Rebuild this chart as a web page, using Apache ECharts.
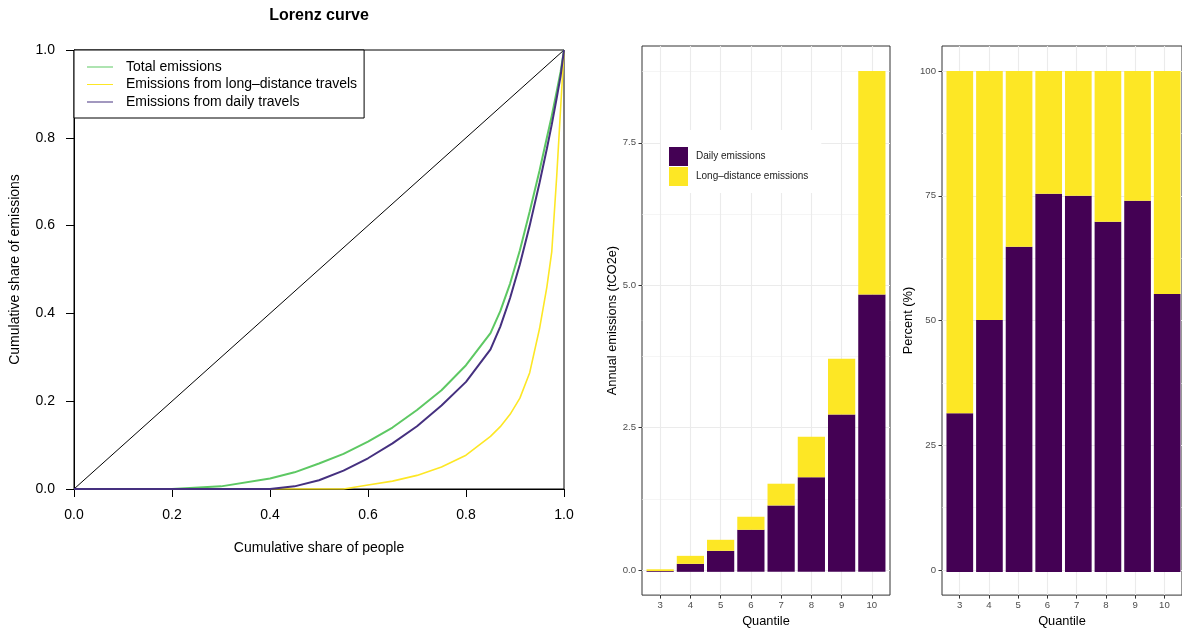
<!DOCTYPE html>
<html>
<head>
<meta charset="utf-8">
<title>Lorenz curve and emissions by quantile</title>
<script src="https://cdn.jsdelivr.net/npm/echarts@6/dist/echarts.min.js"></script>
<style>
  html, body { margin: 0; padding: 0; background: #fff; }
  #chart { width: 1182px; height: 633px; }
</style>
</head>
<body>
<div id="chart"></div>
<script>
// Lorenz curves (cumulative share of people -> cumulative share of emissions)
const shareX = [0, 0.1, 0.2, 0.3, 0.4, 0.45, 0.5, 0.55, 0.6, 0.65, 0.7, 0.75, 0.8, 0.85, 0.87, 0.89, 0.91, 0.93, 0.95, 0.965, 0.975, 0.985, 0.993, 1]
const totalShare = [0, 0, 0, 0.006, 0.024, 0.038, 0.058, 0.08, 0.108, 0.14, 0.18, 0.225, 0.282, 0.355, 0.405, 0.468, 0.544, 0.632, 0.725, 0.8, 0.85, 0.905, 0.95, 1]
const longShare = [0, 0, 0, 0, 0, 0, 0, 0, 0.009, 0.018, 0.031, 0.05, 0.077, 0.12, 0.142, 0.17, 0.207, 0.265, 0.365, 0.46, 0.54, 0.71, 0.865, 1]
const dailyShare = [0, 0, 0, 0, 0, 0.006, 0.02, 0.042, 0.07, 0.104, 0.143, 0.19, 0.244, 0.318, 0.37, 0.435, 0.512, 0.6, 0.697, 0.775, 0.83, 0.89, 0.94, 1]
const equalityX = [0, 1]
const equalityY = [0, 1]
const lorenzTicks = [0, 0.2, 0.4, 0.6, 0.8, 1]

// emissions by quantile
const quantiles = [3, 4, 5, 6, 7, 8, 9, 10]
const dailyEm = [0.014, 0.14, 0.368, 0.736, 1.162, 1.653, 2.751, 4.854]
const longEm = [0.031, 0.14, 0.193, 0.228, 0.38, 0.712, 0.976, 3.907]
const dailyPct = [31.7, 50.3, 64.9, 75.5, 75.1, 69.9, 74.1, 55.5]
const longPct = [68.3, 49.7, 35.1, 24.5, 24.9, 30.1, 25.9, 44.5]
const emTicks = [0, 2.5, 5, 7.5]
const emMinor = [1.25, 3.75, 6.25, 8.75]
const pctTicks = [0, 25, 50, 75, 100]
const pctMinor = [12.5, 37.5, 62.5, 87.5]

const FONT = 'Liberation Sans, Arial, Helvetica, sans-serif'
const DAILY = '#440154'
const LONG = '#FDE725'

const pairs = (xs, ys) => xs.map((x, i) => [x, ys[i]])

const chart = echarts.init(document.getElementById('chart'))

// panel frame: ggplot pads a discrete axis by 0.6 of a step, echarts by 0.5,
// so the frame/ticks live on a value axis and the bars on a slightly narrower grid
const EM_RANGE = [-0.44, 9.2]
const PCT_RANGE = [-5, 105]
const panels = [
  { left: 642, width: 248 },
  { left: 942, width: 246 },
]
const inner = p => ({ left: p.left + p.width * 0.1 / 8.2, width: p.width * 8 / 8.2, top: 46, bottom: 36 })

function qAxisX(grid) {
  return {
    type: 'value', gridIndex: grid, min: 2.4, max: 10.6,
    name: 'Quantile', nameLocation: 'middle', nameGap: 17,
    nameTextStyle: { color: '#000', fontSize: 12.8, fontFamily: FONT },
    axisLine: { show: false, onZero: false },
    axisTick: { show: true, length: 3.5, customValues: quantiles, lineStyle: { color: '#333' } },
    axisLabel: { customValues: quantiles, margin: 5, color: '#4D4D4D', fontSize: 9.6, fontFamily: FONT },
    splitLine: { show: true, lineStyle: { color: '#EBEBEB', width: 1.1 } },
  }
}
function qAxisY(grid, range, ticks, name, gap, fmt) {
  return {
    type: 'value', gridIndex: grid, min: range[0], max: range[1], position: 'left',
    name, nameLocation: 'middle', nameGap: gap,
    nameTextStyle: { color: '#000', fontSize: 12.8, fontFamily: FONT },
    axisLine: { show: false, onZero: false },
    axisTick: { show: true, length: 3.5, customValues: ticks, lineStyle: { color: '#333' } },
    axisLabel: { customValues: ticks, margin: 6, color: '#4D4D4D', fontSize: 9.6, fontFamily: FONT, formatter: fmt },
    splitLine: { show: true, lineStyle: { color: '#EBEBEB', width: 1.1 } },
  }
}
function minorAxisY(grid, range, ticks) {
  return {
    type: 'value', gridIndex: grid, min: range[0], max: range[1], position: 'left',
    axisLine: { show: false, onZero: false },
    axisTick: { show: false, customValues: ticks },
    axisLabel: { show: false, customValues: ticks },
    splitLine: { show: true, lineStyle: { color: '#EEEEEE', width: 0.6 } },
  }
}

const lineBase = { type: 'line', xAxisIndex: 0, yAxisIndex: 0, symbol: 'none', smooth: false }
const barBase = { type: 'bar', barCategoryGap: '10%' }

const option = {
  animation: false,
  backgroundColor: '#fff',
  title: {
    text: 'Lorenz curve', left: 319, top: 8, textAlign: 'center', padding: 0,
    textStyle: { fontSize: 16, fontWeight: 'bold', color: '#000', fontFamily: FONT },
  },
  legend: [
    {
      data: ['Total emissions', 'Emissions from long–distance travels', 'Emissions from daily travels'],
      orient: 'vertical', left: 74, top: 50, icon: 'rect',
      padding: [10, 7, 9, 13], itemWidth: 26, itemHeight: 1, itemGap: 3.5,
      backgroundColor: '#fff', borderColor: '#000', borderWidth: 1, borderRadius: 0,
      textStyle: { fontSize: 14, lineHeight: 14, color: '#000', fontFamily: FONT, padding: [0, 0, 0, 8] },
    },
    {
      data: ['Daily emissions', 'Long–distance emissions'],
      orient: 'vertical', left: 661, top: 130,
      padding: [17, 13, 7, 8], itemWidth: 19, itemHeight: 19, itemGap: 1, icon: 'rect',
      backgroundColor: '#fff',
      textStyle: { fontSize: 10, color: '#1A1A1A', fontFamily: FONT, padding: [0, 0, 0, 3] },
    },
  ],
  grid: [
    { left: 74, top: 50, width: 490, height: 439, show: true, borderColor: '#000', borderWidth: 1, backgroundColor: 'transparent' },
    { left: panels[0].left, width: panels[0].width, top: 46, bottom: 36, show: true, borderColor: '#333', borderWidth: 1, backgroundColor: 'transparent' },
    { left: panels[1].left, width: panels[1].width, top: 46, bottom: 36, show: true, borderColor: '#333', borderWidth: 1, backgroundColor: 'transparent' },
    inner(panels[0]),
    inner(panels[1]),
  ],
  xAxis: [
    {
      type: 'value', gridIndex: 0, min: 0, max: 1, interval: 0.2,
      name: 'Cumulative share of people', nameLocation: 'middle', nameGap: 52,
      nameTextStyle: { color: '#000', fontSize: 14, fontFamily: FONT },
      axisLine: { show: true, onZero: false, lineStyle: { color: '#000', width: 1 } },
      axisTick: { show: true, length: 8, lineStyle: { color: '#000' } },
      axisLabel: { margin: 19, color: '#000', fontSize: 14, fontFamily: FONT, formatter: v => v.toFixed(1), customValues: lorenzTicks },
      splitLine: { show: false },
    },
    qAxisX(1),
    qAxisX(2),
    { type: 'category', gridIndex: 3, data: quantiles, show: false },
    { type: 'category', gridIndex: 4, data: quantiles, show: false },
  ],
  yAxis: [
    {
      type: 'value', gridIndex: 0, min: 0, max: 1, interval: 0.2,
      name: 'Cumulative share of emissions', nameLocation: 'middle', nameGap: 52,
      nameTextStyle: { color: '#000', fontSize: 14, fontFamily: FONT },
      axisLine: { show: true, onZero: false, lineStyle: { color: '#000', width: 1 } },
      axisTick: { show: true, length: 8, lineStyle: { color: '#000' } },
      axisLabel: { margin: 19, color: '#000', fontSize: 14, fontFamily: FONT, formatter: v => v.toFixed(1), customValues: lorenzTicks },
      splitLine: { show: false },
    },
    qAxisY(1, EM_RANGE, emTicks, 'Annual emissions (tCO2e)', 23, v => v.toFixed(1)),
    minorAxisY(1, EM_RANGE, emMinor),
    qAxisY(2, PCT_RANGE, pctTicks, 'Percent (%)', 27, v => String(v)),
    minorAxisY(2, PCT_RANGE, pctMinor),
    { type: 'value', gridIndex: 3, min: EM_RANGE[0], max: EM_RANGE[1], show: false },
    { type: 'value', gridIndex: 4, min: PCT_RANGE[0], max: PCT_RANGE[1], show: false },
  ],
  series: [
    { ...lineBase, name: 'equality', data: pairs(equalityX, equalityY), lineStyle: { color: '#000', width: 1 } },
    { ...lineBase, name: 'Total emissions', data: pairs(shareX, totalShare), color: '#5DC863', lineStyle: { width: 2 } },
    { ...lineBase, name: 'Emissions from long–distance travels', data: pairs(shareX, longShare), color: '#FDE725', lineStyle: { width: 1.6 } },
    { ...lineBase, name: 'Emissions from daily travels', data: pairs(shareX, dailyShare), color: '#45307F', lineStyle: { width: 2 } },

    { ...barBase, name: 'Daily emissions', xAxisIndex: 3, yAxisIndex: 5, stack: 'abs', color: DAILY, data: dailyEm },
    { ...barBase, name: 'Long–distance emissions', xAxisIndex: 3, yAxisIndex: 5, stack: 'abs', color: LONG, data: longEm },
    { ...barBase, name: 'Daily emissions', xAxisIndex: 4, yAxisIndex: 6, stack: 'pct', color: DAILY, data: dailyPct },
    { ...barBase, name: 'Long–distance emissions', xAxisIndex: 4, yAxisIndex: 6, stack: 'pct', color: LONG, data: longPct },
  ],
}

chart.setOption(option)
</script>
</body>
</html>
